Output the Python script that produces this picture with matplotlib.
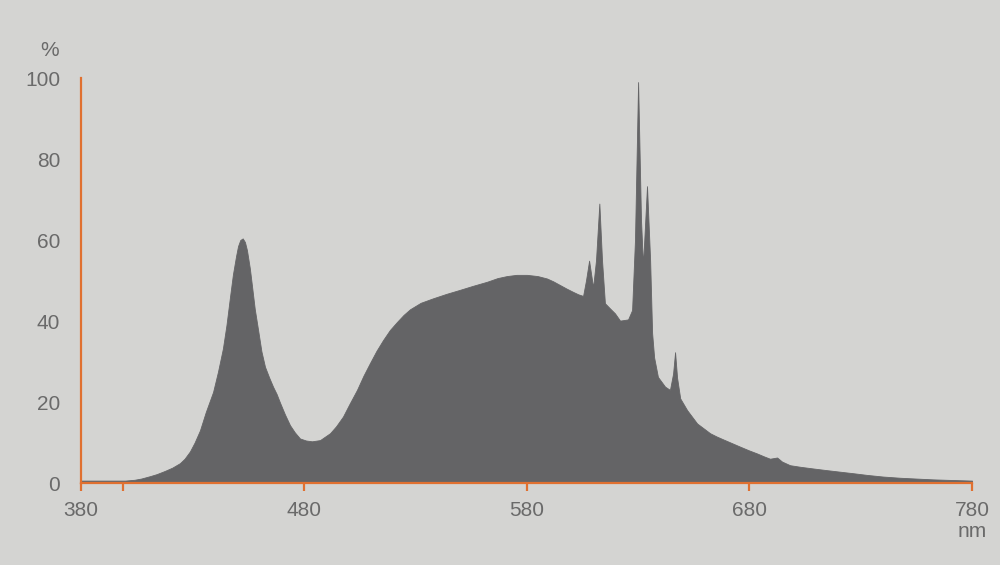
import matplotlib.pyplot as plt

# spectrum (wavelength nm, relative intensity %)
wavelength = [380, 388.5, 399.8, 404, 407, 411, 414, 417.7, 421, 424.4,
              426.5, 428.9, 431, 433.4, 436, 439.3, 441.5, 443.7, 445.3, 446.9,
              448.2, 449.6, 450.5, 451.5, 452.6, 453.6, 454.5, 455.8, 456.8, 458,
              459.5, 461, 462.6, 464.5, 466.2, 467.8, 469.3, 471.5, 473.8, 476,
              478.3, 481, 483.7, 487.3, 491.8, 494.5, 497.6, 500.5, 503.9, 506.8,
              509.7, 512.6, 515.6, 518.7, 521.9, 524.8, 527.7, 532.5, 538, 544,
              550.1, 556, 562.3, 567, 571.2, 575.5, 580.2, 585, 589.2, 592,
              595, 598, 600.9, 603.2, 605.4, 606.7, 608.1, 609.9, 611.2, 612.7,
              613.9, 615.2, 617.5, 619.7, 622, 625.6, 627.4, 628.7, 630.1, 631.4,
              632.3, 634.1, 635.5, 636.4, 637.3, 639, 642.2, 644.4, 645.8, 646.7,
              647.6, 649, 652.1, 656.6, 660, 662.4, 665.3, 668.2, 672, 675.8,
              679.7, 683.5, 686.5, 689.3, 692.5, 694.7, 698.3, 703, 708.6, 714.5,
              720.7, 727, 732.9, 740, 747.7, 755, 762.5, 771, 780]
intensity = [0.6, 0.6, 0.6, 0.8, 1.1, 1.7, 2.2, 3.0, 3.8, 4.9,
             6.0, 7.8, 10, 13, 17.5, 22.5, 27.5, 33.2, 39, 46,
             51.5, 56, 58.5, 60, 60.4, 59.5, 57.5, 53, 48.5, 43,
             37.8, 32.5, 28.7, 26, 23.8, 22, 19.9, 17, 14.3, 12.5,
             11, 10.5, 10.3, 10.6, 12.3, 14, 16.4, 19.5, 23, 26.5,
             29.6, 32.6, 35.3, 37.8, 39.8, 41.5, 42.9, 44.5, 45.6, 46.7,
             47.7, 48.7, 49.7, 50.6, 51.1, 51.4, 51.4, 51.1, 50.5, 49.8,
             48.9, 48, 47.2, 46.6, 46.2, 50, 54.9, 48.3, 55, 69,
             55, 44.4, 43.1, 41.9, 40.1, 40.4, 42.7, 60, 99, 65,
             53.8, 73.3, 55, 37, 31, 26.2, 23.8, 23, 27, 32.3,
             26, 20.9, 18, 14.7, 13.3, 12.3, 11.5, 10.8, 9.9, 9,
             8.1, 7.3, 6.6, 6.0, 6.3, 5.3, 4.4, 4.0, 3.6, 3.2,
             2.8, 2.4, 2.0, 1.6, 1.3, 1.1, 0.9, 0.75, 0.6]

x_ticks = [380, 399, 480, 580, 680, 780]
x_labels = ['380', '', '480', '580', '680', '780']
y_ticks = [0, 20, 40, 60, 80, 100]

bg = '#d4d4d2'
fill_col = '#646466'
orange = '#e07030'
text_col = '#6a6a6a'

plt.rcParams['font.family'] = ['Liberation Sans', 'DejaVu Sans']

fig = plt.figure(figsize=(10, 5.65), dpi=100, facecolor=bg)
ax = fig.add_axes([0.081, 0.1451, 0.891, 0.7168])
ax.set_facecolor(bg)

ax.fill_between(wavelength, intensity, 0, color=fill_col, linewidth=0.6, edgecolor=fill_col)

ax.set_xlim(380, 780)
ax.set_ylim(0, 100)

for side in ['top', 'right']:
    ax.spines[side].set_visible(False)
for side in ['left', 'bottom']:
    ax.spines[side].set_color(orange)
    ax.spines[side].set_linewidth(1.6)

ax.set_xticks(x_ticks)
ax.set_xticklabels(x_labels)
ax.set_yticks(y_ticks)
ax.tick_params(axis='x', colors=orange, length=6, width=1.6, pad=7,
               labelsize=15, labelcolor=text_col)
ax.tick_params(axis='y', length=0, pad=15, labelsize=15, labelcolor=text_col)

fig.text(0.050, 0.910, '%', ha='center', va='center', fontsize=15, color=text_col)
fig.text(0.972, 0.060, 'nm', ha='center', va='center', fontsize=15, color=text_col)

fig.savefig('out.png', dpi=100, facecolor=bg)
